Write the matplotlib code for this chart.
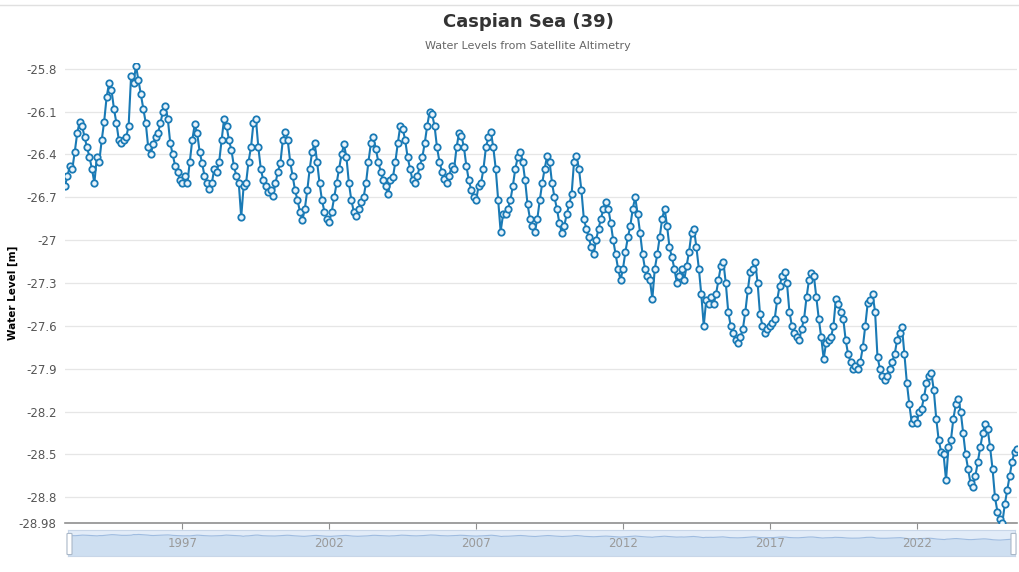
import numpy as np
import matplotlib.pyplot as plt
from matplotlib.lines import Line2D
from matplotlib.patches import FancyBboxPatch

# monthly water levels [m], Jan..Dec
levels = {
    1993: [-26.62, -26.55, -26.48, -26.50, -26.38, -26.25, -26.17, -26.20, -26.28, -26.35, -26.42, -26.50],
    1994: [-26.60, -26.42, -26.45, -26.30, -26.17, -26.00, -25.90, -25.95, -26.08, -26.18, -26.30, -26.32],
    1995: [-26.30, -26.28, -26.20, -25.85, -25.90, -25.78, -25.88, -25.98, -26.08, -26.18, -26.35, -26.40],
    1996: [-26.33, -26.28, -26.25, -26.18, -26.10, -26.06, -26.15, -26.32, -26.40, -26.48, -26.52, -26.58],
    1997: [-26.60, -26.55, -26.60, -26.45, -26.30, -26.19, -26.25, -26.38, -26.46, -26.55, -26.60, -26.64],
    1998: [-26.60, -26.50, -26.52, -26.45, -26.30, -26.15, -26.20, -26.30, -26.37, -26.48, -26.55, -26.60],
    1999: [-26.84, -26.62, -26.60, -26.45, -26.35, -26.18, -26.15, -26.35, -26.50, -26.58, -26.62, -26.66],
    2000: [-26.65, -26.69, -26.60, -26.52, -26.46, -26.30, -26.24, -26.30, -26.45, -26.55, -26.65, -26.72],
    2001: [-26.80, -26.86, -26.78, -26.65, -26.50, -26.38, -26.32, -26.45, -26.60, -26.72, -26.80, -26.85],
    2002: [-26.87, -26.80, -26.70, -26.60, -26.50, -26.40, -26.33, -26.42, -26.60, -26.72, -26.80, -26.83],
    2003: [-26.78, -26.73, -26.70, -26.60, -26.45, -26.32, -26.28, -26.36, -26.45, -26.52, -26.58, -26.62],
    2004: [-26.68, -26.58, -26.56, -26.45, -26.32, -26.20, -26.22, -26.30, -26.42, -26.50, -26.58, -26.60],
    2005: [-26.55, -26.48, -26.42, -26.32, -26.20, -26.10, -26.12, -26.20, -26.35, -26.45, -26.52, -26.57],
    2006: [-26.60, -26.55, -26.48, -26.50, -26.35, -26.25, -26.27, -26.35, -26.48, -26.58, -26.65, -26.70],
    2007: [-26.72, -26.62, -26.60, -26.50, -26.35, -26.28, -26.24, -26.35, -26.50, -26.72, -26.94, -26.82],
    2008: [-26.82, -26.78, -26.72, -26.62, -26.50, -26.42, -26.38, -26.45, -26.58, -26.75, -26.85, -26.90],
    2009: [-26.94, -26.85, -26.72, -26.60, -26.50, -26.41, -26.45, -26.60, -26.70, -26.78, -26.88, -26.95],
    2010: [-26.90, -26.82, -26.75, -26.68, -26.45, -26.41, -26.50, -26.65, -26.85, -26.92, -26.98, -27.05],
    2011: [-27.10, -27.00, -26.92, -26.85, -26.78, -26.73, -26.78, -26.88, -27.00, -27.10, -27.20, -27.28],
    2012: [-27.20, -27.08, -26.98, -26.90, -26.78, -26.70, -26.82, -26.95, -27.10, -27.20, -27.25, -27.28],
    2013: [-27.41, -27.20, -27.10, -26.98, -26.85, -26.78, -26.90, -27.05, -27.12, -27.20, -27.30, -27.25],
    2014: [-27.20, -27.28, -27.18, -27.08, -26.95, -26.92, -27.05, -27.20, -27.38, -27.60, -27.42, -27.45],
    2015: [-27.40, -27.45, -27.38, -27.28, -27.18, -27.15, -27.30, -27.50, -27.60, -27.65, -27.70, -27.72],
    2016: [-27.68, -27.62, -27.50, -27.35, -27.22, -27.20, -27.15, -27.30, -27.52, -27.60, -27.65, -27.62],
    2017: [-27.60, -27.58, -27.55, -27.42, -27.32, -27.25, -27.22, -27.30, -27.50, -27.60, -27.65, -27.68],
    2018: [-27.70, -27.62, -27.55, -27.40, -27.28, -27.23, -27.25, -27.40, -27.55, -27.68, -27.83, -27.72],
    2019: [-27.70, -27.68, -27.60, -27.41, -27.45, -27.50, -27.55, -27.70, -27.80, -27.85, -27.90, -27.88],
    2020: [-27.90, -27.85, -27.75, -27.60, -27.44, -27.42, -27.38, -27.50, -27.82, -27.90, -27.95, -27.98],
    2021: [-27.95, -27.90, -27.85, -27.80, -27.70, -27.65, -27.61, -27.80, -28.00, -28.15, -28.28, -28.25],
    2022: [-28.28, -28.20, -28.18, -28.10, -28.00, -27.95, -27.93, -28.05, -28.25, -28.40, -28.48, -28.50],
    2023: [-28.68, -28.45, -28.40, -28.25, -28.15, -28.11, -28.20, -28.35, -28.50, -28.60, -28.70, -28.73],
    2024: [-28.65, -28.55, -28.45, -28.35, -28.29, -28.32, -28.45, -28.60, -28.80, -28.90, -28.95, -28.98],
    2025: [-28.85, -28.75, -28.65, -28.55, -28.48, -28.46],
}
ytick_vals = [-25.8, -26.1, -26.4, -26.7, -27.0, -27.3, -27.6, -27.9, -28.2, -28.5, -28.8, -28.98]
ytick_labels = ["-25.8", "-26.1", "-26.4", "-26.7", "-27", "-27.3", "-27.6", "-27.9", "-28.2", "-28.5", "-28.8", "-28.98"]
year_ticks = [1997, 2002, 2007, 2012, 2017, 2022]

t = []
v = []
for yr, vals in levels.items():
    for m, val in enumerate(vals):
        t.append(yr + m / 12)
        v.append(val)
t = np.array(t)
v = np.array(v)

blue = "#1a7ab5"
fig = plt.figure(figsize=(10.19, 5.72), dpi=100)
ax = fig.add_axes([65 / 1019, 1 - 523 / 572, (1017 - 65) / 1019, (523 - 63) / 572])

ax.plot(t, v, color=blue, lw=1.5, marker="o", ms=4.6, mfc="#eaf4fb", mec=blue, mew=1.3, zorder=3)
ax.set_xlim(t[0], t[-1])
ax.set_ylim(v.min(), v.max() + 0.02)

ax.set_yticks(ytick_vals)
ax.set_yticklabels(ytick_labels)
ax.grid(axis="y", color="#e6e6e6", lw=0.9)
ax.set_axisbelow(True)
for s in ["top", "right", "left"]:
    ax.spines[s].set_visible(False)
ax.spines["bottom"].set_color("#8f8f8f")
ax.spines["bottom"].set_linewidth(1.2)
ax.tick_params(axis="y", length=0, labelsize=8.5, labelcolor="#555555", pad=6)
ax.set_xticks(year_ticks)
ax.set_xticklabels([str(y) for y in year_ticks])
ax.tick_params(axis="x", length=4, color="#8f8f8f", labelsize=8.5, labelcolor="#9a9a9a", pad=6)
ax.set_ylabel("Water Level [m]", fontsize=7.5, fontweight="bold")
ax.yaxis.set_label_coords(-0.049, 0.5)

# data zoom slider below the plot
sl = fig.add_axes([68 / 1019, 1 - 556 / 572, (1015 - 68) / 1019, 26 / 572], zorder=-1)
sl.set_xlim(t[0], t[-1])
sl.set_ylim(v.min() - 9, v.max() + 2.5)
sl.fill_between(t, v, v.min() - 9, color="#c9dcf0", alpha=0.8, lw=0)
sl.plot(t, v, color="#9fbce0", lw=0.8)
sl.set_facecolor("#e2ecf8")
sl.set_xticks([])
sl.set_yticks([])
for s in sl.spines.values():
    s.set_color("#c8d6e8")
for hx in [68, 1012]:
    fig.add_artist(FancyBboxPatch((hx / 1019, 1 - 554 / 572), 3 / 1019, 20 / 572,
                                  boxstyle="round,pad=0.001", fc="white", ec="#aab8c8", lw=0.8,
                                  transform=fig.transFigure))

fig.text(528 / 1019, 1 - 22 / 572, "Caspian Sea (39)", ha="center", va="center",
         fontsize=13, fontweight="bold", color="#333333")
fig.text(528 / 1019, 1 - 46 / 572, "Water Levels from Satellite Altimetry", ha="center", va="center",
         fontsize=8, color="#666666")
fig.add_artist(Line2D([0, 1], [1 - 5 / 572, 1 - 5 / 572], color="#e0e0e0", lw=1, transform=fig.transFigure))

fig.savefig("out.png", dpi=100, facecolor="white")
